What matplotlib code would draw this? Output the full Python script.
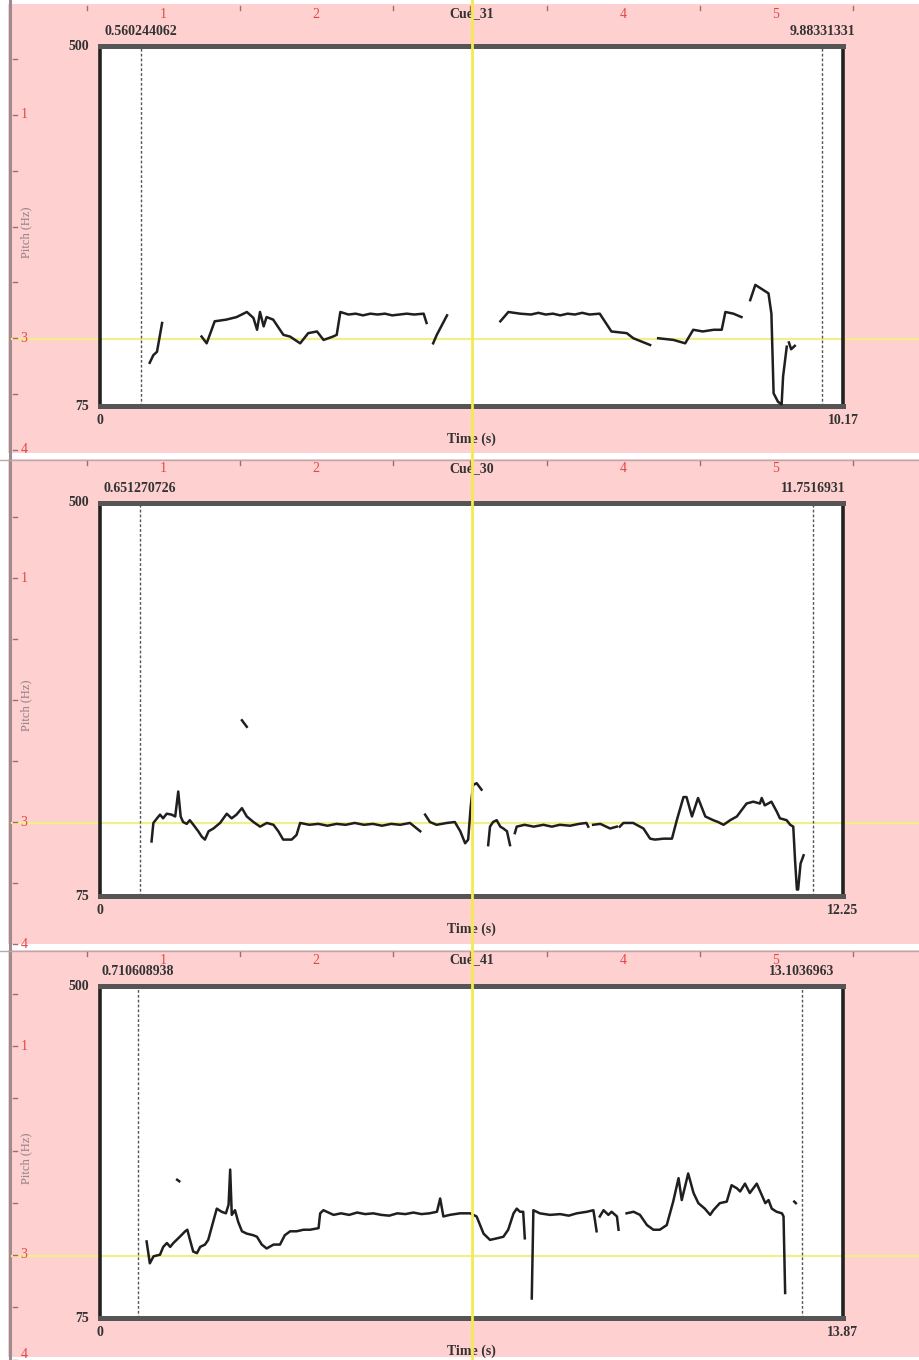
import numpy as np
import matplotlib
matplotlib.use("Agg")
import matplotlib.pyplot as plt
import matplotlib.transforms as mtransforms
from matplotlib.lines import Line2D
from matplotlib.patches import Rectangle

nan = np.nan

# ---- Cue_31 pitch track (s, Hz); NaN = unvoiced gap
cue31_time = [0.68, 0.73, 0.78, 0.85, nan,
              1.39, 1.46, 1.57, 1.73, 1.87, 2.01, 2.10, 2.15, 2.19, 2.24,
              2.28, 2.37, 2.51, 2.60, 2.74, 2.85, 2.97, 3.06, 3.19, 3.24,
              3.29, 3.40, 3.50, 3.60, 3.70, 3.80, 3.90, 4.00, 4.10, 4.20,
              4.30, 4.43, 4.47, nan,
              4.56, 4.61, 4.75, nan,
              5.48, 5.59, 5.75, 5.90, 6.00, 6.10, 6.20, 6.30, 6.40, 6.50,
              6.60, 6.70, 6.84, 7.00, 7.21, 7.30, 7.53, nan,
              7.64, 7.85, 8.01, 8.12, 8.25, 8.40, 8.51, 8.56, 8.67, 8.78, nan,
              8.90, 8.97, 9.15, 9.19, 9.22, 9.28, 9.33, 9.35, 9.40, nan,
              9.43, 9.46, 9.51]
cue31_hz = [126, 135, 139, 173, nan,
            157, 149, 175, 177, 180, 186, 179, 165, 186, 169,
            180, 177, 159, 157, 149, 161, 163, 153, 157, 159,
            186, 183, 184, 182, 184, 183, 184, 182, 183, 184,
            183, 184, 173, nan,
            149, 159, 182, nan,
            175, 186, 184, 183, 185, 183, 184, 182, 184, 183,
            185, 183, 184, 163, 161, 155, 147, nan,
            155, 153, 149, 165, 163, 165, 165, 186, 184, 180, nan,
            200, 218, 208, 184, 90, 80, 77, 110, 145, nan,
            150, 142, 146]

# ---- Cue_30
cue30_time = [0.85, 0.88, 0.94, 0.99, 1.04, 1.10, 1.18, 1.24, 1.29, 1.33,
              1.37, 1.43, 1.48, 1.54, 1.62, 1.68, 1.73, 1.79, 1.87, 1.98,
              2.09, 2.17, 2.25, 2.34, 2.42, 2.53, 2.64, 2.75, 2.86, 2.94,
              3.02, 3.16, 3.24, 3.30, 3.45, 3.60, 3.75, 3.90, 4.05, 4.20,
              4.35, 4.50, 4.65, 4.80, 4.95, 5.11, 5.28, nan,
              5.36, 5.44, 5.55, 5.72, 5.85, 5.94, 6.02, 6.07, 6.11, 6.15, 6.21, 6.29, nan,
              6.40, 6.43, 6.48, 6.54, 6.60, 6.65, 6.71, 6.76, nan,
              6.84, 6.87, 7.00, 7.15, 7.31, 7.45, 7.58, 7.75, 7.90, 8.02, 8.05, nan,
              8.13, 8.25, 8.41, 8.52, nan,
              8.57, 8.63, 8.79, 8.96, 9.07, 9.15, 9.29, 9.43, 9.51, 9.62,
              9.67, 9.76, 9.86, 9.98, 10.11, 10.19, 10.28, 10.39, 10.50, 10.66,
              10.77, 10.88, 10.91, 10.96, 11.07, 11.16, 11.21, 11.32, 11.38, 11.43,
              11.46, 11.49, 11.51, 11.55, 11.60, nan,
              2.34, 2.42]
cue30_hz = [134, 154, 159, 163, 159, 164, 163, 161, 188, 161,
            155, 153, 157, 152, 145, 139, 136, 145, 148, 154,
            164, 159, 163, 170, 161, 155, 150, 154, 152, 145,
            136, 136, 141, 154, 152, 153, 151, 153, 152, 154,
            152, 153, 151, 153, 152, 154, 145, nan,
            163, 155, 152, 154, 155, 145, 132, 136, 170, 195, 197, 190, nan,
            130, 150, 155, 157, 150, 148, 145, 130, nan,
            143, 150, 152, 150, 152, 150, 152, 151, 153, 154, 150, nan,
            152, 153, 148, 150, nan,
            150, 154, 154, 148, 137, 136, 137, 137, 157, 182,
            182, 161, 181, 161, 157, 155, 152, 157, 161, 175,
            177, 175, 181, 173, 177, 166, 159, 157, 152, 150,
            113, 82, 82, 110, 119, nan,
            265, 258]

# ---- Cue_41
cue41_time = [0.87, 0.93, 1.00, 1.12, 1.18, 1.25, 1.31, 1.37, 1.49, 1.59,
              1.63, 1.68, 1.74, 1.81, 1.87, 1.96, 2.02, 2.12, 2.18, 2.27,
              2.35, 2.40, 2.43, 2.46, 2.52, 2.58, 2.65, 2.74, 2.86, 2.93,
              3.02, 3.11, 3.24, 3.36, 3.45, 3.55, 3.67, 3.80, 3.92, 4.08,
              4.11, 4.17, 4.36, 4.50, 4.65, 4.80, 4.95, 5.10, 5.25, 5.40,
              5.55, 5.70, 5.85, 6.00, 6.15, 6.29, 6.35, 6.41, 6.53, 6.72,
              6.91, 7.03, 7.16, 7.28, 7.41, 7.53, 7.62, 7.72, 7.78, 7.84,
              7.90, 7.93, nan,
              8.06, 8.09, 8.21, 8.40, 8.59, 8.75, 8.90, 9.09, 9.21, 9.24, 9.27, nan,
              9.33, 9.40, 9.49, 9.55, 9.65, 9.68, nan,
              9.83, 9.96, 10.08, 10.21, 10.33, 10.45, 10.58, 10.70, 10.80, 10.86,
              10.92, 10.98, 11.08, 11.17, 11.29, 11.39, 11.45, 11.57, 11.70, 11.79,
              11.89, 11.95, 12.04, 12.13, 12.26, 12.35, 12.42, 12.48, 12.54, 12.63,
              12.73, 12.76, 12.79, nan,
              1.44, 1.48, nan,
              12.96, 12.99]
cue41_hz = [173, 145, 154, 156, 166, 171, 166, 171, 179, 186,
            188, 175, 160, 158, 166, 169, 175, 200, 215, 211,
            209, 220, 265, 207, 213, 198, 186, 183, 181, 179,
            169, 164, 169, 169, 181, 186, 186, 188, 188, 190,
            209, 213, 207, 209, 207, 210, 208, 209, 207, 206,
            209, 208, 210, 208, 209, 211, 228, 205, 207, 209,
            209, 205, 183, 175, 177, 179, 188, 209, 215, 211,
            211, 177, nan,
            100, 213, 209, 207, 208, 206, 209, 211, 213, 200, 186, nan,
            205, 213, 207, 211, 205, 188, nan,
            209, 211, 207, 194, 188, 188, 194, 224, 254, 226,
            243, 260, 235, 222, 215, 207, 213, 222, 224, 245,
            241, 237, 247, 235, 247, 233, 222, 226, 215, 211,
            209, 205, 107, nan,
            252, 250, nan,
            224, 222]

cue_names = ["Cue_31", "Cue_30", "Cue_41"]
durations = [10.17, 12.25, 13.87]
mark_left = ["0.560244062", "0.651270726", "0.710608938"]
mark_right = ["9.88331331", "11.7516931", "13.1036963"]
pitch_floor, pitch_ceiling = 75, 500
guide_hz = 154

# ---- page layout (pixels of the screenshot)
W, H = 920, 1360
PINK = "#FFD0D0"
RED = "#E2474B"
panel_box = [(46, 406), (503, 896), (986, 1318)]        # top, bottom
ruler_row = [6, 461, 952]                                # top ruler tick row
ruler_one = [(115, 111.5), (578, 122), (1046, 104.5)]    # left ruler "1" y, unit
box_left, box_right = 100, 843
guide_x = 472

plt.rcParams["font.family"] = ["Liberation Serif", "DejaVu Serif"]
fig = plt.figure(figsize=(W / 100, H / 100), dpi=100, facecolor=PINK)


def fx(x):
    return x / W


def fy(y):
    return 1 - y / H


# white strips / separators of the screenshot
for y0, y1 in [(0, 4), (453, 459), (944, 950), (1357, 1360)]:
    fig.patches.append(Rectangle((0, fy(y1)), 1, (y1 - y0) / H, transform=fig.transFigure,
                                 facecolor="white", edgecolor="none", zorder=-5))
fig.patches.append(Rectangle((0, 0), fx(8), 1, transform=fig.transFigure,
                             facecolor="white", edgecolor="none", zorder=-5))
fig.add_artist(Line2D([fx(10), fx(10)], [0, 1], transform=fig.transFigure,
                      color="#9c8c8f", lw=2.2, zorder=-4))
for y in [460, 951]:
    fig.add_artist(Line2D([0, 1], [fy(y), fy(y)], transform=fig.transFigure,
                          color="#b9a9ab", lw=1, zorder=-4))

# word-processor style rulers
top_major = {"1": 163, "2": 316, "4": 623, "5": 776}
top_minor = [87, 240, 393, 470, 547, 700, 853]
for row in ruler_row:
    for lab, x in top_major.items():
        fig.text(fx(x), fy(row + 8), lab, color=RED, fontsize=10, ha="center", va="center")
    for x in top_minor:
        fig.add_artist(Line2D([fx(x), fx(x)], [fy(row), fy(row + 4)], transform=fig.transFigure,
                              color="#a46a6c", lw=1))
for y1, unit in ruler_one:
    for k in range(-1, 7):
        y = y1 + k * unit / 2
        if y > H:
            continue
        fig.add_artist(Line2D([fx(13), fx(17)], [fy(y), fy(y)], transform=fig.transFigure,
                              color="#a46a6c", lw=1))
    for lab, k in [("1", 0), ("3", 2), ("4", 3)]:
        fig.text(fx(24), fy(min(y1 + k * unit, H - 6)), lab, color=RED, fontsize=10,
                 ha="center", va="center")

tracks = [(cue31_time, cue31_hz), (cue30_time, cue30_hz), (cue41_time, cue41_hz)]
txt = dict(fontsize=10, fontweight="bold", color="#333333")

for i, (t, hz) in enumerate(tracks):
    top, bot = panel_box[i]
    ax = fig.add_axes([fx(box_left), fy(bot), (box_right - box_left) / W, (bot - top) / H])
    ax.set_facecolor("white")
    ax.set_xlim(0, durations[i])
    ax.set_ylim(pitch_floor, pitch_ceiling)
    ax.set_xticks([])
    ax.set_yticks([])
    for side in ["left", "right"]:
        ax.spines[side].set_color("#222222")
        ax.spines[side].set_linewidth(2.6)
    for side in ["top", "bottom"]:
        ax.spines[side].set_color("#555555")
        ax.spines[side].set_linewidth(3.6)

    # yellow guide line running across the page
    blend = mtransforms.blended_transform_factory(fig.transFigure, ax.transData)
    ax.plot([fx(12), 1], [guide_hz, guide_hz], transform=blend, clip_on=False,
            color="#F3EE8C", lw=1.6, zorder=1.5)

    ax.plot(t, hz, color="#1f1f1f", lw=1.8, solid_joinstyle="round", zorder=3)

    for m in [mark_left[i], mark_right[i]]:
        ax.axvline(float(m), color="#555555", lw=1, ls=(0, (2, 1.5)), zorder=2)
        ax.annotate(m, xy=(float(m), 1), xycoords=("data", "axes fraction"),
                    xytext=(0, 6), textcoords="offset points", ha="center", va="bottom", **txt)

    ax.annotate(str(pitch_ceiling), xy=(0, 1), xycoords="axes fraction", xytext=(-8, 0),
                textcoords="offset points", ha="right", va="center", **txt)
    ax.annotate(str(pitch_floor), xy=(0, 0), xycoords="axes fraction", xytext=(-8, 0),
                textcoords="offset points", ha="right", va="center", **txt)
    ax.annotate("0", xy=(0, 0), xycoords="axes fraction", xytext=(0, -6),
                textcoords="offset points", ha="center", va="top", **txt)
    ax.annotate(f"{durations[i]:.2f}", xy=(1, 0), xycoords="axes fraction", xytext=(0, -6),
                textcoords="offset points", ha="center", va="top", **txt)
    ax.annotate("Time (s)", xy=(0.5, 0), xycoords="axes fraction", xytext=(0, -19),
                textcoords="offset points", ha="center", va="top", **txt)

    fig.text(fx(26), fy((top + bot) / 2 + 6), "Pitch (Hz)", rotation=90, ha="center",
             va="center", fontsize=9, color="#8d8085")
    fig.text(fx(guide_x), fy(ruler_row[i] + 8), cue_names[i], ha="center", va="center", **txt)

fig.add_artist(Line2D([fx(guide_x), fx(guide_x)], [0, 1], transform=fig.transFigure,
                      color="#F4EA50", lw=2, zorder=10))

fig.savefig("out.png", dpi=100, facecolor=PINK)
